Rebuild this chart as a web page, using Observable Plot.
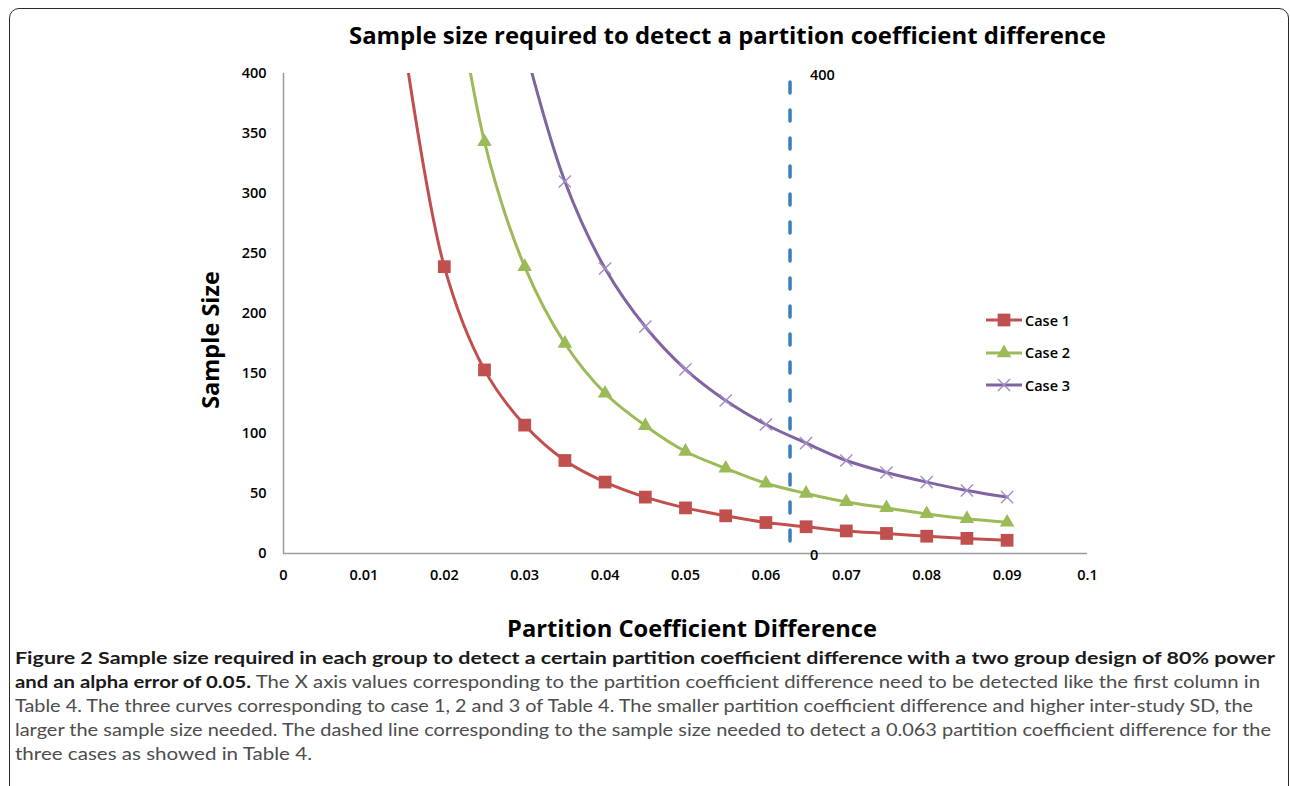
<!DOCTYPE html>
<html><head><meta charset="utf-8">
<script src="https://cdn.jsdelivr.net/npm/d3@7"></script>
<script src="https://cdn.jsdelivr.net/npm/@observablehq/plot@0.6"></script>
<style>
html,body{margin:0;padding:0;background:#fff;}
body{width:1290px;height:786px;position:relative;overflow:hidden;font-family:Lato,"Open Sans",sans-serif;}
#frame{position:absolute;left:9px;top:8px;width:1280px;height:820px;border:1.5px solid #2b2b2b;border-radius:10px;box-sizing:border-box;}
#title{position:absolute;left:349px;top:18px;white-space:nowrap;font-family:"Open Sans",sans-serif;font-weight:700;font-size:24px;color:#000;line-height:34px;}
#chart{position:absolute;left:0;top:50px;}
#ylabel{position:absolute;left:210px;top:340px;white-space:nowrap;font-family:"Open Sans",sans-serif;font-weight:700;font-size:23.5px;color:#000;transform:translate(-50%,-50%) rotate(-90deg);}
#xlabel{position:absolute;left:507px;top:611px;white-space:nowrap;font-family:"Open Sans",sans-serif;font-weight:700;font-size:23px;color:#000;line-height:34px;}
#legend{position:absolute;left:985px;top:308px;font-family:"Open Sans",sans-serif;font-weight:600;font-size:14.5px;color:#000;}
.lrow{display:flex;align-items:center;height:24px;margin-bottom:8.5px;}
.lrow svg{display:block;margin-right:2px;}
#caption{position:absolute;left:15px;top:646px;font-family:Lato,sans-serif;font-size:17.5px;line-height:24px;color:#4d4d4d;}
.cl{white-space:nowrap;transform-origin:left center;}
.cl b{color:#1a1a1a;font-weight:700;}
</style></head>
<body>
<div id="frame"></div>
<div id="title">Sample size required to detect a partition coefficient difference</div>
<div id="chart"></div>
<div id="ylabel">Sample Size</div>
<div id="xlabel">Partition Coefficient Difference</div>
<div id="legend"></div>
<div id="caption">
<div class="cl" data-w="1260"><b>Figure 2 Sample size required in each group to detect a certain partition coefficient difference with a two group design of 80% power</b></div>
<div class="cl" data-w="1245"><b>and an alpha error of 0.05.</b> The X axis values corresponding to the partition coefficient difference need to be detected like the first column in</div>
<div class="cl" data-w="1238">Table 4. The three curves corresponding to case 1, 2 and 3 of Table 4. The smaller partition coefficient difference and higher inter-study SD, the</div>
<div class="cl" data-w="1256">larger the sample size needed. The dashed line corresponding to the sample size needed to detect a 0.063 partition coefficient difference for the</div>
<div class="cl" data-w="297">three cases as showed in Table 4.</div>
</div>
<script>
// ---- data ----
const seriesNames = ["Case 1", "Case 2", "Case 3"];
const seriesColors = ["#c0504d", "#9bbb59", "#8064a2"];
const markerColors = ["#c0504d", "#9bbb59", "#a28ccb"];
const case1X = [0.015, 0.02, 0.025, 0.03, 0.035, 0.04, 0.045, 0.05, 0.055, 0.06, 0.065, 0.07, 0.075, 0.08, 0.085, 0.09];
const case1Y = [425, 239, 153, 107, 77.5, 59.5, 47, 38, 31.4, 25.8, 22.3, 18.8, 16.7, 14.4, 12.6, 11];
const case2X = [0.02, 0.025, 0.03, 0.035, 0.04, 0.045, 0.05, 0.055, 0.06, 0.065, 0.07, 0.075, 0.08, 0.085, 0.09];
const case2Y = [536, 343, 239, 175, 133.5, 106.5, 85, 71, 58.5, 50, 43, 38, 33, 29, 26];
const case3X = [0.03, 0.035, 0.04, 0.045, 0.05, 0.055, 0.06, 0.065, 0.07, 0.075, 0.08, 0.085, 0.09];
const case3Y = [423, 310, 237.5, 189, 153.5, 127.5, 107.5, 92, 77.5, 67.5, 59.5, 52.5, 47];
const refX = [0.063];
const refY = [0, 400];
const refLabels = ["0", "400"];
const xTicks = [0, 0.01, 0.02, 0.03, 0.04, 0.05, 0.06, 0.07, 0.08, 0.09, 0.1];
const xTickLabels = ["0", "0.01", "0.02", "0.03", "0.04", "0.05", "0.06", "0.07", "0.08", "0.09", "0.1"];
const yTicks = [0, 50, 100, 150, 200, 250, 300, 350, 400];
const yTickLabels = ["0", "50", "100", "150", "200", "250", "300", "350", "400"];

// ---- build table ----
const xsAll = [case1X, case2X, case3X], ysAll = [case1Y, case2Y, case3Y];
const rows = [];
seriesNames.forEach((s, k) => xsAll[k].forEach((x, i) => rows.push({series: s, x, y: ysAll[k][i]})));
const visible = rows.filter(d => d.y <= 400);
const xFmt = new Map(xTicks.map((t, i) => [t, xTickLabels[i]]));
const yFmt = new Map(yTicks.map((t, i) => [t, yTickLabels[i]]));
const refRows = refY.map((y, i) => ({x: refX[0], y, label: refLabels[i]}));

const marks = [
  Plot.ruleX([0], {stroke: "#9a9a9a", strokeWidth: 1.5}),
  Plot.ruleY([0], {stroke: "#9a9a9a", strokeWidth: 1.5}),
];
seriesNames.forEach((s, k) => {
  const data = rows.filter(d => d.series === s);
  marks.push(Plot.line(data, {x: "x", y: "y", stroke: seriesColors[k], strokeWidth: 3, curve: "catmull-rom", clip: true}));
});
seriesNames.forEach((s, k) => {
  const data = visible.filter(d => d.series === s);
  if (k === 0) marks.push(Plot.dot(data, {x: "x", y: "y", symbol: "square", r: 7.2, fill: markerColors[k], stroke: "none"}));
  if (k === 1) marks.push(Plot.dot(data, {x: "x", y: "y", symbol: "triangle", r: 5.4, fill: markerColors[k], stroke: "none"}));
  if (k === 2) marks.push(Plot.dot(data, {x: "x", y: "y", symbol: "times", r: 5.6, stroke: markerColors[k], strokeWidth: 1.4}));
});
marks.push(Plot.ruleX(refX, {y1: refY[0], y2: refY[1], stroke: "#3b7cc4", strokeWidth: 3.5, strokeDasharray: "11,17", strokeDashoffset: -12, strokeLinecap: "round"}));
marks.push(Plot.text(refRows, {x: "x", y: "y", text: "label", dx: 20, dy: 2, textAnchor: "start", fontWeight: 600, fontSize: 14.5, fill: "#000"}));

const chart = Plot.plot({
  width: 1290, height: 600,
  marginLeft: 283, marginRight: 203, marginTop: 23, marginBottom: 97,
  style: {fontFamily: "'Open Sans', sans-serif", fontSize: "14.5px", fontWeight: 600, color: "#000", background: "transparent"},
  x: {domain: [0, 0.1], ticks: xTicks, tickFormat: d => xFmt.get(d), tickSize: 0, tickPadding: 16, label: null},
  y: {domain: [0, 400], ticks: yTicks, tickFormat: d => yFmt.get(d), tickSize: 0, tickPadding: 17, label: null},
  marks
});
document.getElementById("chart").appendChild(chart);

// legend
const legend = d3.select("#legend");
seriesNames.forEach((s, k) => {
  const row = legend.append("div").attr("class", "lrow");
  const svg = row.append("svg").attr("width", 38).attr("height", 20);
  svg.append("line").attr("x1", 1).attr("x2", 37).attr("y1", 10).attr("y2", 10).attr("stroke", seriesColors[k]).attr("stroke-width", 3);
  const type = [d3.symbolSquare, d3.symbolTriangle, d3.symbolTimes][k];
  const size = [Math.PI * 7.2 * 7.2, Math.PI * 5.4 * 5.4, Math.PI * 5.6 * 5.6][k];
  const p = svg.append("path").attr("d", d3.symbol(type, size)()).attr("transform", "translate(19,10)");
  if (k < 2) p.attr("fill", markerColors[k]); else p.attr("fill", "none").attr("stroke", markerColors[k]).attr("stroke-width", 1.4);
  row.append("span").text(s);
});

// fit text widths to the reference
function fit(el, w) {
  const r = el.getBoundingClientRect().width;
  if (r > 0) { el.style.transform = `scaleX(${w / r})`; el.style.transformOrigin = "left center"; }
}
document.querySelectorAll(".cl").forEach(el => {
  el.style.display = "inline-block";
  fit(el, +el.dataset.w);
  el.style.display = "block";
  el.style.width = "max-content";
});
fit(document.getElementById("title"), 757);
fit(document.getElementById("xlabel"), 370);
</script>
</body></html>
